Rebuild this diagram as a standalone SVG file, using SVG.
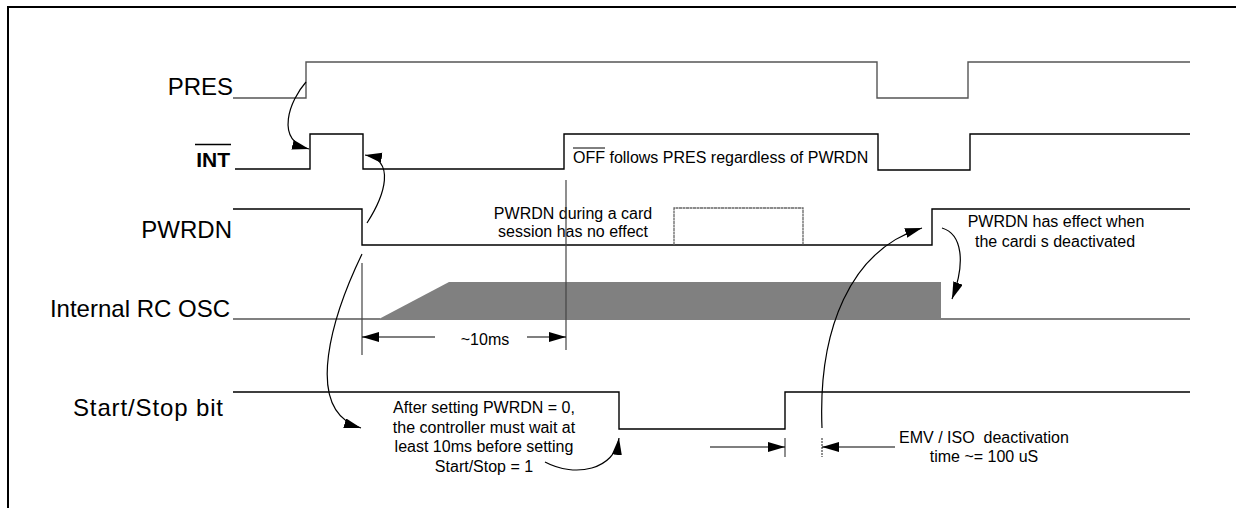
<svg xmlns="http://www.w3.org/2000/svg" width="1236" height="508" viewBox="0 0 1236 508">
<style>
.lbl{font-family:"Liberation Sans",Arial,sans-serif;font-size:24px;fill:#000;text-anchor:end}
.note{font-family:"Liberation Sans",Arial,sans-serif;font-size:16px;fill:#000;text-anchor:middle}
.sig{fill:none;stroke:#000;stroke-width:1.4}
.sigg{fill:none;stroke:#555;stroke-width:1.4}
.osc{fill:none;stroke:#808080;stroke-width:2}
.conn{fill:none;stroke:#000;stroke-width:1.2}
.tick{fill:none;stroke:#444;stroke-width:1.2}
</style>
<defs>
<marker id="ah" markerUnits="userSpaceOnUse" markerWidth="18" markerHeight="12" refX="17" refY="5" orient="auto">
<path d="M0,0 L17,5 L0,10 z" fill="#000"/>
</marker>
</defs>
<rect width="1236" height="508" fill="#fff"/>
<g id="frame">
<path d="M8,508 L8,7 L1236,7" fill="none" stroke="#000" stroke-width="2"/>
</g>
<g id="pres">
<text class="lbl" x="233" y="95">PRES</text>
<path class="sigg" d="M233,98 L306,98 L306,62 L877,62 L877,98 L968,98 L968,62 L1190,62"/>
</g>
<g id="int">
<text class="lbl" x="230" y="167" style="font-weight:bold;font-size:21px">INT</text>
<line x1="195" y1="144.5" x2="231" y2="144.5" stroke="#000" stroke-width="1.5"/>
<path class="sig" d="M235,169 L310,169 L310,134 L363,134 L363,169 L564,169 L564,134 L878,134 L878,170 L970,170 L970,134 L1190,134"/>
<text class="note" x="573" y="163" style="text-anchor:start">OFF follows PRES regardless of PWRDN</text>
<line x1="573" y1="148" x2="605" y2="148" stroke="#000" stroke-width="1"/>
</g>
<g id="pwrdn">
<text class="lbl" x="232" y="238">PWRDN</text>
<path class="sig" d="M233,209 L362,209 L362,245 L932,245 L932,209 L1190,209"/>
<path d="M674,245 L674,208 L803,208 L803,245" fill="none" stroke="#666" stroke-width="1.3" stroke-dasharray="3 0.5"/>
<text class="note" x="573" y="219">PWRDN during a card</text>
<text class="note" x="573" y="237">session has no effect</text>
<text class="note" x="1056" y="227">PWRDN has effect when</text>
<text class="note" x="1055" y="247">the cardi s deactivated</text>
</g>
<g id="rcosc">
<text class="lbl" x="230" y="317">Internal RC OSC</text>
<path class="osc" d="M233,319 L380,319"/>
<polygon points="378,319.5 449,282 941,282 941,320 378,320" fill="#808080"/>
<path class="osc" d="M932,319 L1190,319"/>
</g>
<g id="startstop">
<text class="lbl" x="223" y="416" textLength="150" lengthAdjust="spacing">Start/Stop bit</text>
<path class="sig" d="M233,392 L619,392 L619,429 L785,429 L785,392 L1190,392"/>
<text class="note" x="484" y="413">After setting PWRDN = 0,</text>
<text class="note" x="484" y="433">the controller must wait at</text>
<text class="note" x="484" y="452">least 10ms before setting</text>
<text class="note" x="484" y="472">Start/Stop = 1</text>
<text class="note" x="984" y="443" xml:space="preserve">EMV / ISO  deactivation</text>
<text class="note" x="984" y="462">time ~= 100 uS</text>
</g>
<g id="timing">
<line class="tick" x1="362" y1="263" x2="362" y2="355"/>
<line class="tick" x1="566" y1="180" x2="566" y2="350"/>
<text class="note" x="485" y="345">~10ms</text>
<line class="tick" x1="785" y1="438" x2="785" y2="457"/>
<line class="tick" x1="822" y1="438" x2="822" y2="457" stroke-dasharray="2 1"/>
</g>
<g id="connectors">
<path class="conn" d="M435,337 L362,337" marker-end="url(#ah)"/>
<path class="conn" d="M527,337 L566,337" marker-end="url(#ah)"/>
<path class="conn" d="M710,447 L785,447" marker-end="url(#ah)"/>
<path class="conn" d="M895,447 L822,447" marker-end="url(#ah)"/>
<path class="conn" d="M306,82 C290,100 274,140 309,149" marker-end="url(#ah)"/>
<path class="conn" d="M367,223 C385,195 396,160 365,155" marker-end="url(#ah)"/>
<path class="conn" d="M362,254 C335,310 300,410 361,428" marker-end="url(#ah)"/>
<path class="conn" d="M545,462 C575,478 615,470 619,438" marker-end="url(#ah)"/>
<path class="conn" d="M822,428 C818,330 850,250 922,228" marker-end="url(#ah)"/>
<path class="conn" d="M942,228 C962,234 966,262 952,299" marker-end="url(#ah)"/>
</g>
</svg>
